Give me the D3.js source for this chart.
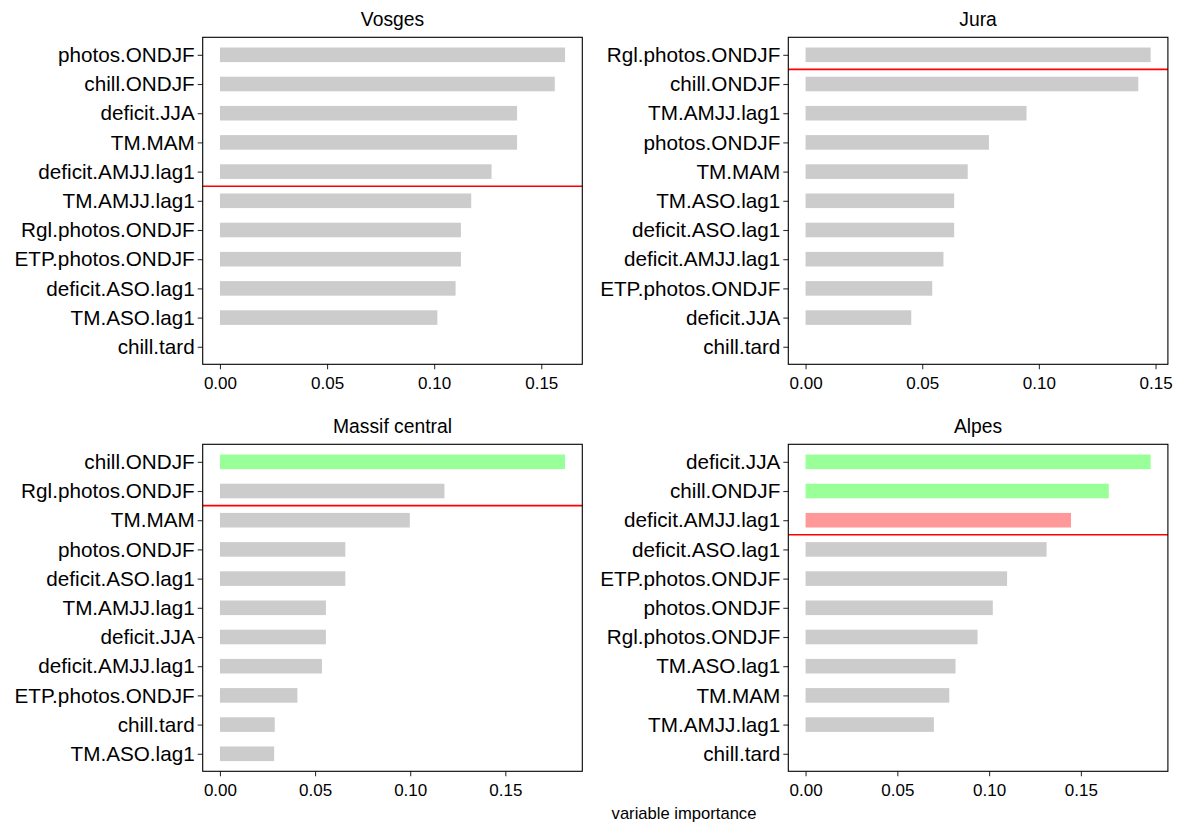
<!DOCTYPE html>
<html>
<head>
<meta charset="utf-8">
<script src="https://cdn.jsdelivr.net/npm/d3@7"></script>
<style>
  body { margin: 0; background: #fff; }
  svg { display: block; font-family: "Liberation Sans", Arial, sans-serif; }
</style>
</head>
<body>
<svg id="chart" width="1180" height="823"></svg>
<script>
// ---- Data ----
const panelTitles = ["Vosges", "Jura", "Massif central", "Alpes"];

const vosgesVars = ["photos.ONDJF", "chill.ONDJF", "deficit.JJA", "TM.MAM", "deficit.AMJJ.lag1",
  "TM.AMJJ.lag1", "Rgl.photos.ONDJF", "ETP.photos.ONDJF", "deficit.ASO.lag1", "TM.ASO.lag1", "chill.tard"];
const vosgesImp = [0.1611, 0.1563, 0.1387, 0.1387, 0.1268, 0.1173, 0.1125, 0.1125, 0.1100, 0.1015, 0];
const vosgesSign = ["n", "n", "n", "n", "n", "n", "n", "n", "n", "n", "n"];
const vosgesCut = 5;

const juraVars = ["Rgl.photos.ONDJF", "chill.ONDJF", "TM.AMJJ.lag1", "photos.ONDJF", "TM.MAM",
  "TM.ASO.lag1", "deficit.ASO.lag1", "deficit.AMJJ.lag1", "ETP.photos.ONDJF", "deficit.JJA", "chill.tard"];
const juraImp = [0.1479, 0.1426, 0.0947, 0.0786, 0.0695, 0.0637, 0.0637, 0.0591, 0.0543, 0.0453, 0];
const juraSign = ["n", "n", "n", "n", "n", "n", "n", "n", "n", "n", "n"];
const juraCut = 1;

const massifVars = ["chill.ONDJF", "Rgl.photos.ONDJF", "TM.MAM", "photos.ONDJF", "deficit.ASO.lag1",
  "TM.AMJJ.lag1", "deficit.JJA", "deficit.AMJJ.lag1", "ETP.photos.ONDJF", "chill.tard", "TM.ASO.lag1"];
const massifImp = [0.1814, 0.1180, 0.0998, 0.0659, 0.0659, 0.0557, 0.0557, 0.0536, 0.0407, 0.0288, 0.0285];
const massifSign = ["pos", "n", "n", "n", "n", "n", "n", "n", "n", "n", "n"];
const massifCut = 2;

const alpesVars = ["deficit.JJA", "chill.ONDJF", "deficit.AMJJ.lag1", "deficit.ASO.lag1", "ETP.photos.ONDJF",
  "photos.ONDJF", "Rgl.photos.ONDJF", "TM.ASO.lag1", "TM.MAM", "TM.AMJJ.lag1", "chill.tard"];
const alpesImp = [0.1880, 0.1652, 0.1446, 0.1313, 0.1098, 0.1020, 0.0937, 0.0817, 0.0783, 0.0699, 0];
const alpesSign = ["pos", "pos", "neg", "n", "n", "n", "n", "n", "n", "n", "n"];
const alpesCut = 3;

const xTicks = [0, 0.05, 0.10, 0.15];
const xTitle = "variable importance";

// ---- Styles ----
const colorMap = { n: "#cccccc", pos: "#99ff99", neg: "#ff9999" };

const panels = [
  { title: panelTitles[0], vars: vosgesVars, imp: vosgesImp, sign: vosgesSign, cut: vosgesCut, x0: 202.7, y0: 37.3 },
  { title: panelTitles[1], vars: juraVars, imp: juraImp, sign: juraSign, cut: juraCut, x0: 788.3, y0: 37.3 },
  { title: panelTitles[2], vars: massifVars, imp: massifImp, sign: massifSign, cut: massifCut, x0: 202.7, y0: 444.3 },
  { title: panelTitles[3], vars: alpesVars, imp: alpesImp, sign: alpesSign, cut: alpesCut, x0: 788.3, y0: 444.3 }
];
const pw = 379.6, ph = 327;

const svg = d3.select("#chart");

panels.forEach(p => {
  const g = svg.append("g").attr("transform", `translate(${p.x0},${p.y0})`);
  const mx = d3.max(p.imp);
  const x = d3.scaleLinear().domain([-0.05 * mx, 1.05 * mx]).range([0, pw]);
  const y = d3.scalePoint().domain(p.vars).range([0, ph]).padding(0.6);
  const step = y.step();

  // bars
  g.selectAll("rect.bar").data(p.vars.map((v, i) => ({ v, val: p.imp[i], s: p.sign[i] })))
    .enter().append("rect")
    .attr("class", "bar")
    .attr("x", x(0))
    .attr("y", d => y(d.v) - step * 0.25)
    .attr("width", d => Math.max(0, x(d.val) - x(0)))
    .attr("height", step * 0.5)
    .attr("fill", d => colorMap[d.s]);

  // red cut line between category cut and cut+1
  const cy = (y(p.vars[p.cut - 1]) + y(p.vars[p.cut])) / 2;
  g.append("line")
    .attr("x1", 0).attr("x2", pw)
    .attr("y1", cy).attr("y2", cy)
    .attr("stroke", "#ff0000").attr("stroke-width", 1.6);

  // axes
  const xa = g.append("g").attr("transform", `translate(0,${ph})`)
    .call(d3.axisBottom(x).tickValues(xTicks).tickFormat(d3.format(".2f")).tickSize(5).tickPadding(8));
  xa.select(".domain").remove();
  xa.selectAll("line").attr("stroke", "#333").attr("stroke-width", 1.1);
  xa.selectAll("text").attr("fill", "#000").style("font-size", "17px");

  const ya = g.append("g")
    .call(d3.axisLeft(y).tickSize(5).tickPadding(3));
  ya.select(".domain").remove();
  ya.selectAll("line").attr("stroke", "#333").attr("stroke-width", 1.1);
  ya.selectAll("text").attr("fill", "#000").style("font-size", "20.7px");

  // border
  g.append("rect").attr("x", 0).attr("y", 0).attr("width", pw).attr("height", ph)
    .attr("fill", "none").attr("stroke", "#000").attr("stroke-width", 1.1);

  // title
  g.append("text")
    .attr("x", pw / 2).attr("y", -11.8)
    .attr("text-anchor", "middle")
    .style("font-size", "19.3px")
    .attr("fill", "#000")
    .text(p.title);
});

svg.append("text")
  .attr("x", 684).attr("y", 819)
  .attr("text-anchor", "middle")
  .style("font-size", "16.6px")
  .attr("fill", "#000")
  .text(xTitle);
</script>
</body>
</html>
